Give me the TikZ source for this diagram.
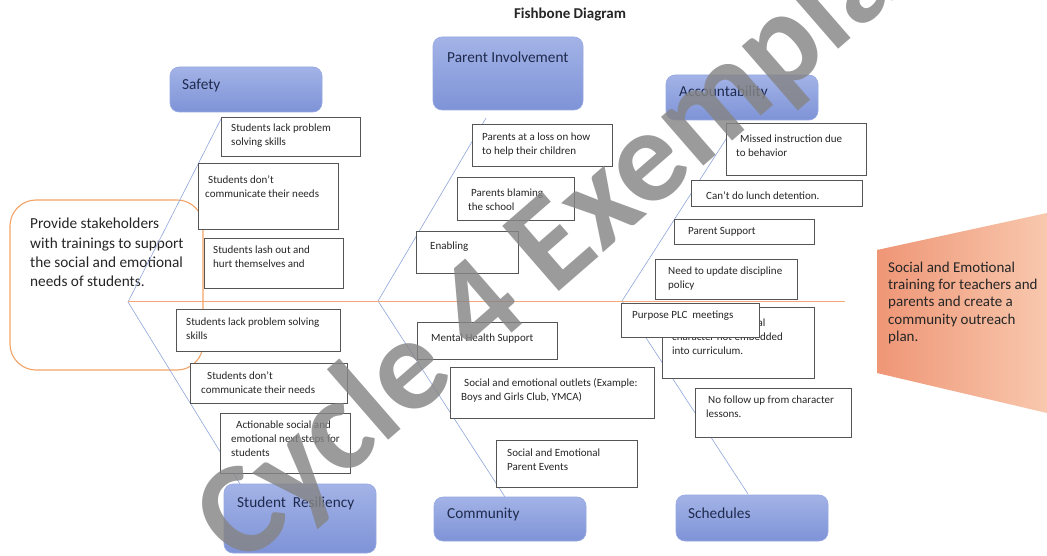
\documentclass[tikz,border=0pt]{standalone}
\usepackage{fontspec}
\setmainfont{Carlito}
\definecolor{bonec}{HTML}{8FA6DA}
\definecolor{spinec}{HTML}{F5A97A}
\definecolor{probc}{HTML}{F2A365}
\definecolor{cattop}{HTML}{A3B3E7}
\definecolor{catbot}{HTML}{7E93D7}
\definecolor{catdraw}{HTML}{97A8E2}
\definecolor{boxdraw}{HTML}{555555}
\definecolor{cattxt}{HTML}{1F2A4D}
\definecolor{effl}{HTML}{EF9676}
\definecolor{effr}{HTML}{F8C8AE}
\definecolor{wmgray}{HTML}{858585}
\newcommand\causebox[8]{%
  \node[cause, anchor=north west, minimum width=#4pt, minimum height=#5pt] (#1) at (#2,#3) {};
  \node[causetext] (#1-t) at (#6,#7) {\strut #8};}
\newcommand\catbox[8]{%
  \node[catbox, anchor=north west, minimum width=#4pt, minimum height=#5pt] (#1) at (#2,#3) {};
  \node[cattext] (#1-t) at (#6,#7) {#8};}
\begin{document}
\begin{tikzpicture}[x=1pt,y=-1pt,
  catbox/.style={draw=catdraw, line width=0.6pt, rounded corners=9pt, top color=cattop, bottom color=catbot, inner sep=0pt, outer sep=0pt},
  cattext/.style={font=\fontsize{15.3}{17}\selectfont, text=cattxt, inner sep=0pt, anchor=west},
  cause/.style={draw=boxdraw, line width=0.7pt, fill=white, inner sep=0pt, outer sep=0pt},
  causetext/.style={font=\fontsize{11}{14}\selectfont, text=black!85, inner sep=0pt, align=left, anchor=north west},
  bone/.style={draw=bonec, line width=0.6pt},
  probbox/.style={draw=probc, line width=1.1pt, rounded corners=26pt, fill=white, inner sep=0pt, outer sep=0pt},
  wmark/.style={font=\fontsize{133}{133}\selectfont\bfseries, text=wmgray, text opacity=0.82, inner sep=0pt}
]
\useasboundingbox (0,0) rectangle (1047,556);
\fill[white] (0,0) rectangle (1047,556);

% problem box (left)
\node[probbox, anchor=north west, minimum width=193pt, minimum height=170pt] (prob) at (10,200) {};
\node[font=\fontsize{15.3}{19.3}\selectfont, text=black!85, align=left, anchor=north west, inner sep=0pt] (prob-t) at (30,215)
  {\strut Provide stakeholders\\with trainings to support\\the social and emotional\\needs of students.};

% effect shape (right)
\path[left color=effl, right color=effr] (877,250) -- (1047,213) -- (1047,413) -- (877,373) -- cycle;
\node[font=\fontsize{15}{17.3}\selectfont, text=black!85, align=left, anchor=north west, inner sep=0pt] (eff-t) at (888,260)
  {\strut Social and Emotional\\training for teachers and\\parents and create a\\community outreach\\plan.};

% spine and bones
\coordinate (sp0) at (128,301);
\coordinate (sp1) at (845,301);
\coordinate (j1) at (128,302);
\coordinate (j2) at (378,301);
\coordinate (j3) at (622,301);
\coordinate (e-safety) at (222,117);
\coordinate (e-resil) at (240,484);
\coordinate (e-parent) at (486,118);
\coordinate (e-comm) at (505,497);
\coordinate (e-acct) at (737,122);
\coordinate (e-sched) at (748,494);
\draw[bone] (j1) -- (e-safety);
\draw[bone] (j1) -- (e-resil);
\draw[bone] (j2) -- (e-parent);
\draw[bone] (j2) -- (e-comm);
\draw[bone] (j3) -- (e-acct);
\draw[bone] (j3) -- (e-sched);
\draw[draw=spinec, line width=0.9pt] (sp0) -- (sp1);

% category boxes
\catbox{safety}{170}{67}{152}{45}{182}{85}{Safety}
\catbox{parent}{433}{37}{150}{73}{447}{57}{Parent Involvement}
\catbox{acct}{666}{75}{152}{45}{679}{92}{Accountability}
\catbox{resil}{224}{484}{152}{69}{237}{503}{Student\ \ Resiliency}
\catbox{comm}{434}{497}{152}{44}{447}{514}{Community}
\catbox{sched}{676}{495}{152}{46}{688}{513}{Schedules}

% cause boxes: Safety
\causebox{s1}{221}{117}{139}{39}{231}{121.5}{Students lack problem\\solving skills}
\causebox{s2}{198}{163}{140}{66}{205}{173.5}{\hspace*{3pt}Students don't\\communicate their needs}
\causebox{s3}{204}{238}{139}{50}{213}{243.5}{Students lash out and\\hurt themselves and}
% Student Resiliency
\causebox{r1}{176}{309}{164}{42}{186}{315.5}{Students lack problem solving\\skills}
\causebox{r2}{190}{363}{157}{40}{201}{369.5}{\hspace*{6pt}Students don't\\communicate their needs}
\causebox{r3}{220}{413}{130}{60}{231}{418.5}{\hspace*{5pt}Actionable social and\\emotional next steps for\\students}
% Parent Involvement
\causebox{p1}{472}{124}{140}{42}{482}{130.5}{Parents at a loss on how\\to help their children}
\causebox{p2}{457}{177}{117}{43}{468}{186.5}{\hspace*{3pt}Parents blaming\\the school}
\causebox{p3}{416}{231}{102}{42}{430}{239.5}{Enabling}
% Community
\causebox{c1}{417}{322}{140}{37}{431}{331.5}{Mental Health Support}
\causebox{c2}{450}{367}{204}{51}{461}{376.5}{\hspace*{3pt}Social and emotional outlets (Example:\\Boys and Girls Club, YMCA)}
\causebox{c3}{496}{440}{141}{47}{507}{446.5}{Social and Emotional\\Parent Events}
% Accountability
\causebox{a1}{726}{123}{140}{52}{736}{132.5}{\hspace*{4pt}Missed instruction due\\to behavior}
\causebox{a2}{691}{180}{171}{26}{706}{189.5}{Can't do lunch detention.}
\causebox{a3}{674}{219}{140}{25}{688}{224.5}{Parent Support}
\causebox{a4}{655}{259}{142}{40}{668}{264.5}{Need to update discipline\\policy}
% Schedules
\causebox{h1}{662}{307}{152}{71}{672}{316.5}{Social and emotional\\character not embedded\\into curriculum.}
\causebox{h2}{621}{303}{138}{34}{632}{308.5}{Purpose PLC\ \ meetings}
\causebox{h3}{695}{388}{156}{49}{706}{393.5}{\hspace*{2pt}No follow up from character\\lessons.}

% title
\node[font=\fontsize{15}{17}\selectfont\bfseries, text=black!85, inner sep=0pt] (title) at (570,15) {Fishbone Diagram};

% watermark
\node[wmark, rotate=41] (wm) at (568,236) {Cycle 4 Exemplar};
\end{tikzpicture}
\end{document}
